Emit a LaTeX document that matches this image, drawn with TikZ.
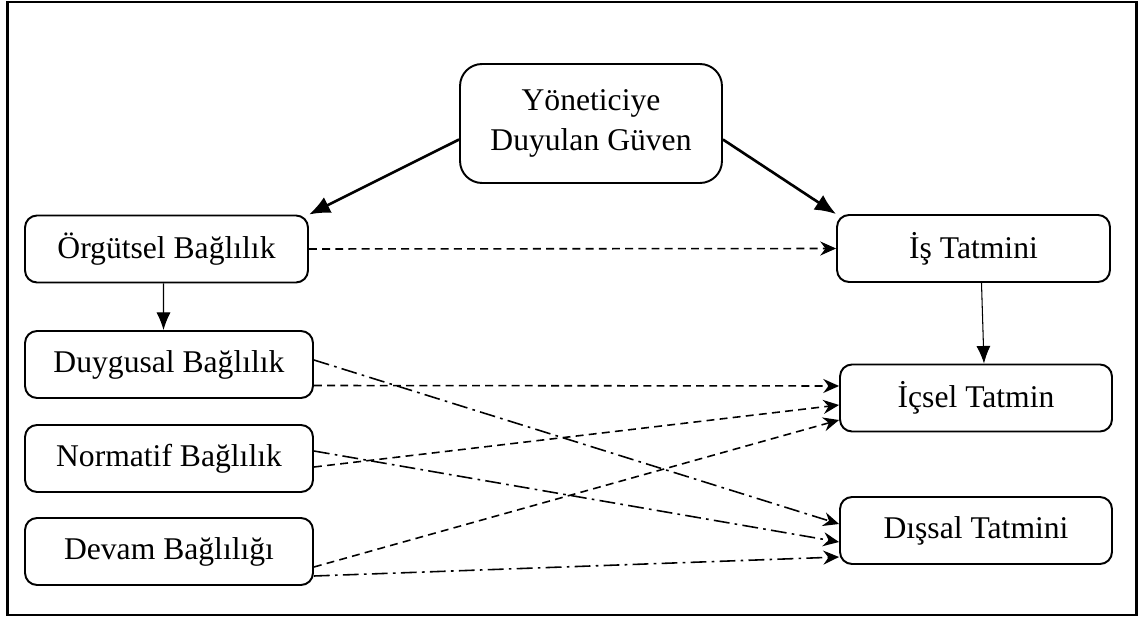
\documentclass[tikz,border=0pt]{standalone}
\usepackage{fontspec}
\setmainfont{Liberation Serif}
\usetikzlibrary{positioning,calc,arrows.meta}

\begin{document}
\begin{tikzpicture}[x=0.02cm,y=-0.02cm,
    box/.style={draw,line width=1.1pt,rounded corners=0.24cm,minimum height=1.34cm,
      font=\fontsize{18}{22.6}\selectfont,align=center,inner sep=0pt},
    bigbox/.style={box,rounded corners=0.44cm},
    strong/.style={-{Latex[length=12pt,width=10pt]},line width=1.5pt},
    weak/.style={-{Latex[length=10pt,width=8pt]},line width=0.6pt},
    link/.style={-{Stealth[length=9pt,width=8pt,inset=3pt]},line width=0.9pt,dash pattern=on 4.5pt off 3pt},
    mixed/.style={-{Stealth[length=9pt,width=8pt,inset=3pt]},line width=0.9pt,dash pattern=on 9pt off 3pt on 1.5pt off 3pt}]
    \useasboundingbox (0,0) rectangle (1144,618);
    \draw[line width=1.7pt] (7.5,2) rectangle (1136.5,615);
    \node[bigbox,minimum width=5.24cm,minimum height=2.38cm] (guven) at (591,123.5) {Yöneticiye\\Duyulan Güven};
    \node[box,minimum width=5.66cm] (orgut)  at (166.5,249) {Örgütsel Bağlılık};
    \node[box,minimum width=5.46cm] (is)     at (973.5,248.5) {İş Tatmini};
    \node[box,minimum width=5.76cm] (duyg)   at (169,364.5) {Duygusal Bağlılık};
    \node[box,minimum width=5.76cm] (norm)   at (169,458.5) {Normatif Bağlılık};
    \node[box,minimum width=5.76cm] (devam)  at (169,551.5) {Devam Bağlılığı};
    \node[box,minimum width=5.44cm] (icsel)  at (976,398) {İçsel Tatmin};
    \node[box,minimum width=5.44cm] (dissal) at (976,530.5) {Dışsal Tatmini};
      \path
        ($(guven.west)+(0,16)$) edge[strong] (orgut.north east)
        ($(guven.east)+(0,16)$) edge[strong] (is.north west)
        (orgut.east) edge[link] (is.west)
        ($(orgut.south)+(-3,0)$) edge[weak] ($(duyg.north)+(-5.5,0)$)
        ($(is.south)+(8,0)$) edge[weak] ($(icsel.north)+(8,0)$)
        ($(duyg.east)+(0,21)$) edge[link] ($(icsel.west)+(0,-12)$)
        ($(norm.east)+(0,8.5)$) edge[link] ($(icsel.west)+(0,7)$)
        ($(devam.east)+(0,15.5)$) edge[link] ($(icsel.west)+(0,22)$)
        ($(duyg.east)+(0,-4.5)$) edge[mixed] ($(dissal.west)+(0,-6.5)$)
        ($(norm.east)+(0,-7.5)$) edge[mixed] ($(dissal.west)+(0,11.5)$)
        ($(devam.east)+(0,24.5)$) edge[mixed] ($(dissal.west)+(0,26.5)$);
\end{tikzpicture}
\end{document}
